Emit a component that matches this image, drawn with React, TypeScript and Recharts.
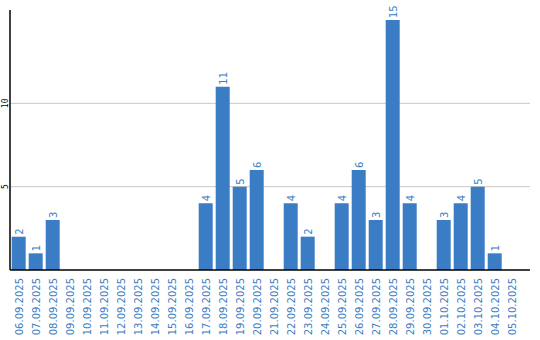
import { Bar, BarChart, LabelList, ReferenceLine, XAxis, YAxis } from 'recharts'

const DATES = [
  '06.09.2025', '07.09.2025', '08.09.2025', '09.09.2025', '10.09.2025', '11.09.2025',
  '12.09.2025', '13.09.2025', '14.09.2025', '15.09.2025', '16.09.2025', '17.09.2025',
  '18.09.2025', '19.09.2025', '20.09.2025', '21.09.2025', '22.09.2025', '23.09.2025',
  '24.09.2025', '25.09.2025', '26.09.2025', '27.09.2025', '28.09.2025', '29.09.2025',
  '30.09.2025', '01.10.2025', '02.10.2025', '03.10.2025', '04.10.2025', '05.10.2025',
]

const COUNTS = [2, 1, 3, 0, 0, 0, 0, 0, 0, 0, 0, 4, 11, 5, 6, 0, 4, 2, 0, 4, 6, 3, 15, 4, 0, 3, 4, 5, 1, 0]

const Y_TICKS = [5, 10]

const BLUE = '#3b7dc4'

const data = DATES.map((d, i) => ({ date: d, count: COUNTS[i] }))

function DateTick({ x, y, payload }: any) {
  return (
    <text
      transform={`translate(${x + 4},${y}) rotate(-90)`}
      textAnchor="end"
      fontSize={10}
      fontFamily="DejaVu Sans"
      fill={BLUE}
    >
      {payload.value}
    </text>
  )
}

function CountTick({ y, payload }: any) {
  return (
    <text
      transform={`translate(8,${y}) rotate(-90)`}
      textAnchor="middle"
      fontSize={8}
      fontFamily="DejaVu Sans Mono"
      fill="#000"
    >
      {payload.value}
    </text>
  )
}

function BarValue({ x, y, width, value }: any) {
  if (!value) return null
  return (
    <text
      transform={`translate(${x + width / 2 + 4},${y - 2}) rotate(-90)`}
      textAnchor="start"
      fontSize={10}
      fontFamily="DejaVu Sans"
      fill={BLUE}
    >
      {value}
    </text>
  )
}

export default function App() {
  return (
    <div style={{ position: 'absolute', left: 0, top: 0, background: '#fff' }}>
      <BarChart
        width={540}
        height={340}
        data={data}
        margin={{ top: 10, right: 10, left: 0, bottom: 0 }}
        barCategoryGap="10%"
      >
        {/* grid rows as reference lines, kept under the bars */}
        {Y_TICKS.map((t) => (
          <ReferenceLine key={t} y={t} stroke="#c8c8c8" zIndex={-100} />
        ))}
        <XAxis
          dataKey="date"
          interval={0}
          height={70}
          padding={{ left: 0, right: 10 }}
          tickLine={false}
          axisLine={{ stroke: '#000', strokeWidth: 1.5 }}
          tick={<DateTick />}
        />
        <YAxis
          width={10}
          domain={[0, 15.6]}
          ticks={Y_TICKS}
          tickLine={false}
          axisLine={{ stroke: '#000', strokeWidth: 1.5 }}
          tick={<CountTick />}
        />
        <Bar dataKey="count" fill={BLUE} isAnimationActive={false}>
          <LabelList dataKey="count" content={<BarValue />} />
        </Bar>
      </BarChart>
    </div>
  )
}
